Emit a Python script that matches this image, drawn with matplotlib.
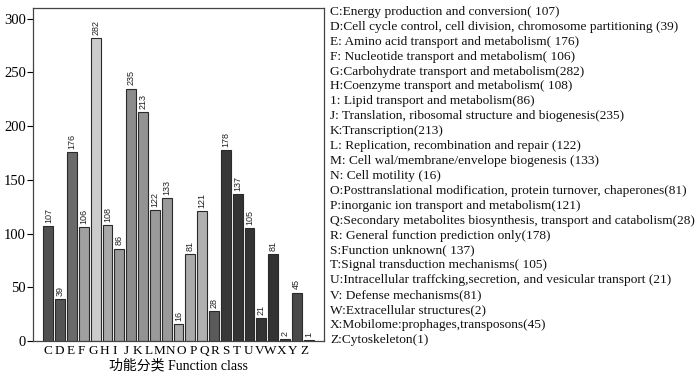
import matplotlib
matplotlib.use('Agg')
import matplotlib.pyplot as plt
import numpy as np

# bars (23 categories, Y has no bar in the original)
codes = ['C', 'D', 'E', 'F', 'G', 'H', 'I', 'J', 'K', 'L', 'M', 'N', 'O', 'P',
         'Q', 'R', 'S', 'T', 'U', 'V', 'W', 'X', 'Z']
counts = [107, 39, 176, 106, 282, 108, 86, 235, 213, 122, 133, 16, 81, 121,
          28, 178, 137, 105, 21, 81, 2, 45, 1]
shades = ['#505050', '#555555', '#6a6a6a', '#a0a0a0', '#cccccc', '#a8a8a8',
          '#999999', '#8c8c8c', '#939393', '#9a9a9a', '#9a9a9a', '#aaaaaa',
          '#aaaaaa', '#b0b0b0', '#5a5a5a', '#383838', '#333333', '#333333',
          '#333333', '#333333', '#3a3a3a', '#4a4a4a', '#444444']

# axis letters as printed under the axis
tick_letters = list('CDEFGHIJKLMNOPQRSTUVWXYZ')

descriptions = [
    'C:Energy production and conversion( 107)',
    'D:Cell cycle control, cell division, chromosome partitioning (39)',
    'E: Amino acid transport and metabolism( 176)',
    'F: Nucleotide transport and metabolism( 106)',
    'G:Carbohydrate transport and metabolism(282)',
    'H:Coenzyme transport and metabolism( 108)',
    '1: Lipid transport and metabolism(86)',
    'J: Translation, ribosomal structure and biogenesis(235)',
    'K:Transcription(213)',
    'L: Replication, recombination and repair (122)',
    'M: Cell wal/membrane/envelope biogenesis (133)',
    'N: Cell motility (16)',
    'O:Posttranslational modification, protein turnover, chaperones(81)',
    'P:inorganic ion transport and metabolism(121)',
    'Q:Secondary metabolites biosynthesis, transport and catabolism(28)',
    'R: General function prediction only(178)',
    'S:Function unknown( 137)',
    'T:Signal transduction mechanisms( 105)',
    'U:Intracellular traffcking,secretion, and vesicular transport (21)',
    'V: Defense mechanisms(81)',
    'W:Extracellular structures(2)',
    'X:Mobilome:prophages,transposons(45)',
    'Z:Cytoskeleton(1)',
]

serif = ['Liberation Serif', 'Noto Sans CJK SC', 'DejaVu Sans']

fig = plt.figure(figsize=(7.0, 3.76), dpi=100)
ax = fig.add_axes([33 / 700, 1 - 341 / 376, 291 / 700, 333 / 376])

x = np.arange(len(counts))
ax.bar(x, counts, width=0.84, color=shades, edgecolor='#2a2a2a', linewidth=0.8)
for xi, v in zip(x, counts):
    ax.text(xi, v + 3, str(v), rotation=90, ha='center', va='bottom',
            fontsize=6.5, family='Liberation Sans', color='#222222')

ax.set_xlim(-1.3, 23.3)
ax.set_ylim(0, 310)
ax.set_yticks([0, 50, 100, 150, 200, 250, 300])
ax.tick_params(axis='y', direction='out', length=4, width=0.8, labelsize=10.5,
               pad=1)
for lab in ax.get_yticklabels():
    lab.set_family(serif)

ax.set_xticks(np.linspace(0, 21.6, len(tick_letters)))
ax.set_xticklabels(tick_letters, family=serif, fontsize=9.5)
ax.tick_params(axis='x', length=0, pad=3)
for s in ax.spines.values():
    s.set_color('#444444')
    s.set_linewidth(0.9)

ax.set_xlabel('功能分类 Function class', family=serif, fontsize=10, labelpad=1)

for i, d in enumerate(descriptions):
    fig.text(330 / 700, 1 - (12 + i * 14.9) / 376, d, family=serif,
             fontsize=9.6, va='center', ha='left', color='#111111')

fig.savefig('out.png', dpi=100)
